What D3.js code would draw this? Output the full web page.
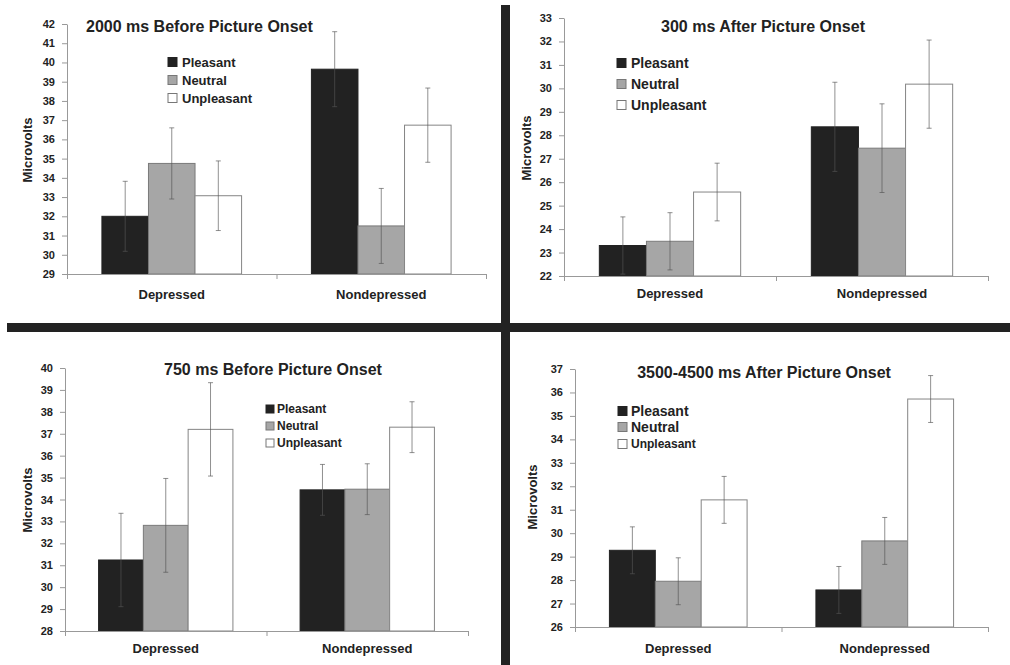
<!DOCTYPE html>
<meta charset="utf-8">
<style>
  body { margin: 0; background: #fff; }
  svg text { font-family: "Liberation Sans", Arial, sans-serif; font-weight: bold; fill: #222; }
</style>
<div id="chart"></div>
<script src="https://d3js.org/d3.v7.min.js"></script>
<script>
    var groups = ["Depressed", "Nondepressed"];
    var conditions = ["Pleasant", "Neutral", "Unpleasant"];
    var titles = ["2000 ms Before Picture Onset", "300 ms After Picture Onset",
                  "750 ms Before Picture Onset", "3500-4500 ms After Picture Onset"];

    // mean values, [group][condition]
    var means2000 = [[32.0, 34.75, 33.07], [39.65, 31.5, 36.74]];
    var errs2000  = [[1.82, 1.85, 1.81], [1.95, 1.95, 1.93]];
    var means300  = [[23.3, 23.48, 25.58], [28.36, 27.45, 30.18]];
    var errs300   = [[1.22, 1.22, 1.23], [1.9, 1.89, 1.88]];
    var means750  = [[31.24, 32.82, 37.2], [34.44, 34.47, 37.3]];
    var errs750   = [[2.13, 2.14, 2.13], [1.16, 1.16, 1.16]];
    var means3500 = [[29.27, 27.95, 31.42], [27.58, 29.67, 35.72]];
    var errs3500  = [[1.0, 1.0, 1.0], [1.0, 1.0, 1.0]];

    var yDomains = [[29, 42], [22, 33], [28, 40], [26, 37]];

    var colors = {Pleasant: "#222", Neutral: "#a6a6a6", Unpleasant: "#fff"};
    var strokes = {Pleasant: "#222", Neutral: "#7a7a7a", Unpleasant: "#858585"};

    // panel layout (pixels)
    var panels = [
        {means: means2000, errs: errs2000, x0: 67, x1: 486, yBot: 274, yTop: 24,
         title: {x: 86, y: 32, anchor: "start"}, ylab: {x: 27, y: 150}, catY: 299,
         legend: {x: 168, y: [62, 80, 98], sq: 9, tx: 182, fs: [13, 13, 13]}},
        {means: means300, errs: errs300, x0: 564, x1: 988, yBot: 276, yTop: 18,
         title: {x: 763, y: 32, anchor: "middle"}, ylab: {x: 526, y: 148}, catY: 298,
         legend: {x: 617, y: [63, 84, 105], sq: 9, tx: 631, fs: [14, 14, 14]}},
        {means: means750, errs: errs750, x0: 65, x1: 468, yBot: 631, yTop: 368,
         title: {x: 273, y: 375, anchor: "middle"}, ylab: {x: 27, y: 500}, catY: 653,
         legend: {x: 266, y: [409, 426, 443], sq: 8, tx: 277, fs: [12, 12, 12]}},
        {means: means3500, errs: errs3500, x0: 575, x1: 988, yBot: 627, yTop: 369,
         title: {x: 764, y: 378, anchor: "middle"}, ylab: {x: 532, y: 497}, catY: 653,
         legend: {x: 618, y: [411, 427, 444], sq: 9, tx: 631, fs: [14, 14, 12]}}
    ];

    var svg = d3.select("#chart").append("svg")
        .attr("width", 1010)
        .attr("height", 665);

    panels.forEach(function(p, i) {
        var g = svg.append("g");

        var y = d3.scaleLinear().domain(yDomains[i]).range([p.yBot, p.yTop]);
        var x = d3.scaleBand().domain(groups).range([p.x0, p.x1]);
        var bw = x.bandwidth();
        var xc = d3.scaleBand().domain(conditions).range([bw / 6, bw * 5 / 6]);

        // y axis
        var yAx = g.append("g")
            .attr("transform", "translate(" + p.x0 + ",0)")
            .call(d3.axisLeft(y).ticks(yDomains[i][1] - yDomains[i][0]).tickSize(5).tickPadding(7).tickSizeOuter(0));
        yAx.select(".domain").attr("stroke", "#999");
        yAx.selectAll(".tick line").attr("stroke", "#999");
        yAx.selectAll(".tick text").attr("font-size", 11).attr("font-family", null);

        // bars
        var rows = [];
        groups.forEach(function(gr, gi) {
            conditions.forEach(function(c, ci) {
                rows.push({group: gr, cond: c, v: p.means[gi][ci], e: p.errs[gi][ci]});
            });
        });

        g.selectAll("rect.bar")
            .data(rows)
            .enter().append("rect")
            .attr("class", "bar")
            .attr("x", function(d) { return x(d.group) + xc(d.cond); })
            .attr("width", xc.bandwidth())
            .attr("y", function(d) { return y(d.v); })
            .attr("height", function(d) { return y(yDomains[i][0]) - y(d.v); })
            .attr("fill", function(d) { return colors[d.cond]; })
            .attr("stroke", function(d) { return strokes[d.cond]; })
            .attr("stroke-width", 1);

        // error bars
        var eb = g.selectAll("g.err")
            .data(rows)
            .enter().append("g")
            .attr("class", "err")
            .attr("stroke", "#555")
            .attr("stroke-opacity", 0.65);
        function cx(d) { return x(d.group) + xc(d.cond) + xc.bandwidth() / 2; }
        eb.append("line")
            .attr("x1", cx).attr("x2", cx)
            .attr("y1", function(d) { return y(d.v + d.e); })
            .attr("y2", function(d) { return y(d.v - d.e); });
        eb.append("line")
            .attr("x1", function(d) { return cx(d) - 2.5; }).attr("x2", function(d) { return cx(d) + 2.5; })
            .attr("y1", function(d) { return y(d.v + d.e); })
            .attr("y2", function(d) { return y(d.v + d.e); });
        eb.append("line")
            .attr("x1", function(d) { return cx(d) - 2.5; }).attr("x2", function(d) { return cx(d) + 2.5; })
            .attr("y1", function(d) { return y(d.v - d.e); })
            .attr("y2", function(d) { return y(d.v - d.e); });

        // x axis with boundary ticks
        var xb = d3.scaleLinear().domain([0, groups.length]).range([p.x0, p.x1]);
        var xAx = g.append("g")
            .attr("transform", "translate(0," + p.yBot + ")")
            .call(d3.axisBottom(xb).tickValues(d3.range(groups.length + 1)).tickFormat("").tickSize(5).tickSizeOuter(0));
        xAx.select(".domain").attr("stroke", "#999");
        xAx.selectAll(".tick line").attr("stroke", "#999");

        g.selectAll("text.cat")
            .data(groups)
            .enter().append("text")
            .attr("class", "cat")
            .attr("x", function(d) { return x(d) + bw / 2; })
            .attr("y", p.catY)
            .attr("text-anchor", "middle")
            .attr("font-size", 13)
            .text(function(d) { return d; });

        // title
        g.append("text")
            .attr("x", p.title.x)
            .attr("y", p.title.y)
            .attr("text-anchor", p.title.anchor)
            .attr("font-size", 16)
            .text(titles[i]);

        // y label
        g.append("text")
            .attr("transform", "translate(" + p.ylab.x + "," + p.ylab.y + ") rotate(-90)")
            .attr("text-anchor", "middle")
            .attr("dominant-baseline", "central")
            .attr("font-size", 13)
            .text("Microvolts");

        // legend
        var lg = g.selectAll("g.leg")
            .data(conditions)
            .enter().append("g")
            .attr("class", "leg");
        lg.append("rect")
            .attr("x", p.legend.x)
            .attr("y", function(d, k) { return p.legend.y[k] - p.legend.sq / 2; })
            .attr("width", p.legend.sq)
            .attr("height", p.legend.sq)
            .attr("fill", function(d) { return colors[d]; })
            .attr("stroke", function(d) { return d == "Pleasant" ? "#222" : "#777"; });
        lg.append("text")
            .attr("x", p.legend.tx)
            .attr("y", function(d, k) { return p.legend.y[k]; })
            .attr("dominant-baseline", "central")
            .attr("font-size", function(d, k) { return p.legend.fs[k]; })
            .text(function(d) { return d; });
    });

    // dividers between panels
    svg.append("rect").attr("x", 501).attr("y", 5).attr("width", 9).attr("height", 660).attr("fill", "#222");
    svg.append("rect").attr("x", 7).attr("y", 323).attr("width", 1003).attr("height", 9).attr("fill", "#222");
</script>
